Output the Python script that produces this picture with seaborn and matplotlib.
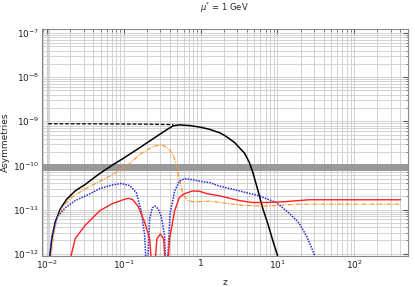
import numpy as np
import pandas as pd
import matplotlib
matplotlib.use("Agg")
import matplotlib.pyplot as plt
import seaborn as sns

# -------------------------------
# Data
# -------------------------------
z_black = [0.0105, 0.0116, 0.0128, 0.0149, 0.018, 0.0233, 0.0314, 0.047, 0.073, 0.097,
           0.16, 0.265, 0.36, 0.44, 0.53, 0.72, 0.97, 1.3, 1.77, 2.05, 2.77, 3.73,
           4.33, 4.78, 5.6, 6.4, 7.5, 8.7, 10.0, 10.8]
A_black = [5e-13, 2.2e-12, 5.2e-12, 1.03e-11, 1.7e-11, 2.65e-11, 3.7e-11, 6.3e-11, 1.05e-10, 1.42e-10,
           2.5e-10, 4.5e-10, 6.4e-10, 7.9e-10, 8.3e-10, 8.0e-10, 7.4e-10, 6.6e-10, 5.5e-10, 4.8e-10, 3.3e-10, 1.9e-10,
           1.15e-10, 7.0e-11, 2.65e-11, 1.1e-11, 4.8e-12, 2e-12, 9.3e-13, 5e-13]

z_dashed = [0.0104, 0.05, 0.2, 0.44]
A_dashed = [8.8e-10, 8.75e-10, 8.6e-10, 8.4e-10]

z_orange = [0.0108, 0.0122, 0.0135, 0.0157, 0.021, 0.031, 0.049, 0.073, 0.12, 0.16,
            0.24, 0.31, 0.375, 0.44, 0.48, 0.53, 0.59, 0.68, 0.83, 1.3,
            1.8, 3.5, 7.2, 12.0, 19.0, 50.0, 400.0]
A_orange = [5e-13, 2.6e-12, 6.2e-12, 1.1e-11, 1.9e-11, 2.9e-11, 4.4e-11, 6.3e-11, 1.1e-10, 1.76e-10,
            2.7e-10, 2.95e-10, 2.5e-10, 1.76e-10, 1.05e-10, 4.9e-11, 2.2e-11, 1.6e-11, 1.5e-11, 1.55e-11,
            1.45e-11, 1.25e-11, 1.2e-11, 1.27e-11, 1.33e-11, 1.33e-11, 1.33e-11]

z_blue = [0.0106, 0.0116, 0.0135, 0.0173, 0.0233, 0.0347, 0.049, 0.07, 0.093, 0.12,
          0.146, 0.17, 0.187, 0.201, 0.217, 0.235, 0.255, 0.28, 0.307, 0.34,
          0.358, 0.4, 0.46, 0.53, 0.62, 0.75, 0.97, 1.3, 1.77, 3.2,
          5.8, 9.6, 14.0, 19.0, 24.0, 30.0, 34.0]
A_blue = [5e-13, 2.6e-12, 6.7e-12, 1.1e-11, 1.6e-11, 2.2e-11, 3.0e-11, 3.6e-11, 3.9e-11, 3.5e-11,
          2.4e-11, 8.7e-12, 2.6e-12, 2e-13, 6.2e-12, 1.1e-11, 1.2e-11, 1.05e-11, 7e-12, 2.6e-12,
          2e-13, 8e-12, 2.65e-11, 4.4e-11, 5.0e-11, 4.8e-11, 4.4e-11, 4.1e-11, 3.4e-11, 2.65e-11,
          2.05e-11, 1.45e-11, 8.5e-12, 5e-12, 2.5e-12, 1e-12, 4e-13]

z_red = [0.019, 0.0233, 0.0314, 0.049, 0.07, 0.098, 0.114, 0.13, 0.153, 0.187,
         0.217, 0.242, 0.27, 0.3, 0.33, 0.362, 0.395, 0.46, 0.53, 0.62,
         0.79, 0.97, 1.2, 1.77, 3.2, 4.7, 7.1, 11.5, 26.0, 100.0, 400.0]
A_red = [5e-13, 2.2e-12, 4.4e-12, 9.5e-12, 1.35e-11, 1.67e-11, 1.8e-11, 1.7e-11, 1.2e-11, 5.2e-12,
         2.2e-12, 2e-13, 2.2e-12, 2.8e-12, 2.2e-12, 2e-13, 2.2e-12, 9.5e-12, 1.9e-11, 2.3e-11,
         2.65e-11, 2.6e-11, 2.3e-11, 2.05e-11, 1.6e-11, 1.45e-11, 1.45e-11, 1.5e-11, 1.67e-11, 1.67e-11, 1.67e-11]

band_lo, band_hi = 7.4e-11, 1.08e-10

xtick_vals = [1e-2, 1e-1, 1, 10, 100]
xtick_labels = ["$10^{-2}$", "$10^{-1}$", "1", "$10^{1}$", "$10^{2}$"]
ytick_vals = [1e-12, 1e-11, 1e-10, 1e-9, 1e-8, 1e-7]
ytick_labels = ["$10^{-12}$", "$10^{-11}$", "$10^{-10}$", "$10^{-9}$", "$10^{-8}$", "$10^{-7}$"]

# -------------------------------
# Plot
# -------------------------------
sns.set_style("white")
plt.rcParams["font.family"] = ["DejaVu Sans"]
plt.rcParams["mathtext.fontset"] = "dejavusans"

fig = plt.figure(figsize=(4.15, 2.87), dpi=100)
ax = fig.add_axes([0.101, 0.108, 0.882, 0.791])
ax.set_xscale("log")
ax.set_yscale("log")

ax.axhspan(band_lo, band_hi, color="#999999", lw=0, zorder=1)
ax.axvline(0.0104, color="#d8d8d8", lw=2.2, zorder=0.5)

sns.lineplot(x=z_dashed, y=A_dashed, ax=ax, color="black", lw=0.9, linestyle=(0, (3, 1.5)), sort=False, zorder=3)
sns.lineplot(x=z_black, y=A_black, ax=ax, color="black", lw=1.1, sort=False, zorder=3)
sns.lineplot(x=z_orange, y=A_orange, ax=ax, color="#ff8c1a", lw=0.8, linestyle=(0, (4, 1.2, 1, 1.2)), sort=False, zorder=3)
sns.lineplot(x=z_blue, y=A_blue, ax=ax, color="#2828d8", lw=1.1, linestyle=(0, (1, 0.8)), sort=False, zorder=3)
sns.lineplot(x=z_red, y=A_red, ax=ax, color="#ff2020", lw=1.0, sort=False, zorder=3)

ax.set_xlim(0.0086, 500)
ax.set_ylim(8.9e-13, 1.23e-7)

ax.set_xticks(xtick_vals)
ax.set_xticklabels(xtick_labels)
ax.set_yticks(ytick_vals)
ax.set_yticklabels(ytick_labels)

ax.grid(True, which="both", color="#cccccc", lw=0.6, zorder=0)
ax.set_axisbelow(True)
ax.tick_params(which="both", direction="in", top=True, right=True, colors="#555555",
               labelcolor="#222222", labelsize=6.5, pad=2)
ax.tick_params(which="major", length=3.5, width=0.8)
ax.tick_params(which="minor", length=1.8, width=0.5)
for s in ax.spines.values():
    s.set_color("#888888")
    s.set_linewidth(0.8)

ax.set_xlabel("z", fontsize=6.5, labelpad=5)
ax.set_ylabel("Asymmetries", fontsize=6.5, labelpad=2)
fig.text(0.54, 0.972, r"$\mu^{*}$ = 1 GeV", fontsize=6, ha="center", va="center")

fig.savefig("out.png", dpi=100)
